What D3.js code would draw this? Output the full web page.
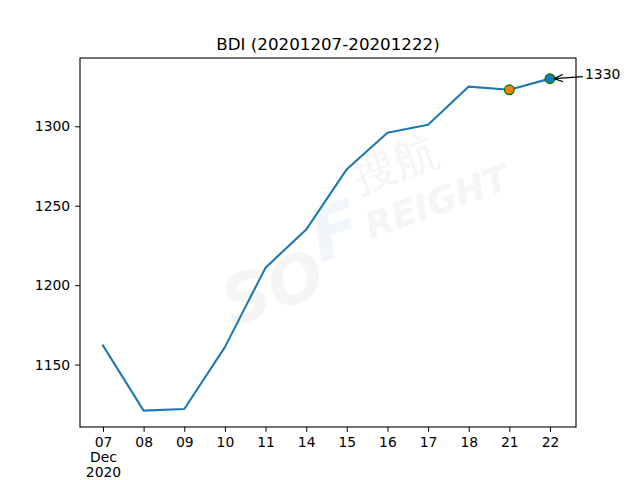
<!DOCTYPE html>
<html><head><meta charset="utf-8">
<script src="https://cdn.jsdelivr.net/npm/d3@7"></script>
<style>body{margin:0;background:#fff}svg{display:block}text{font-family:"DejaVu Sans",sans-serif}</style>
</head><body>
<script>
const days = ["07","08","09","10","11","14","15","16","17","18","21","22"];
const values = [1162,1121,1122,1161,1211,1235,1273,1296,1301,1325,1323,1330];
const yTicks = [1150,1200,1250,1300];
const title = "BDI (20201207-20201222)";
const highlightIdx = [10, 11];
const highlightFill = ["#ff7f0e", "#1f77b4"];
const annotIdx = 11;

const W=640,H=480, L=80, R=576, T=58, B=427;
const svg = d3.select("body").append("svg").attr("width",W).attr("height",H);
const x = d3.scaleLinear().domain([-0.566, 11.64]).range([L,R]);
const y = d3.scaleLinear().domain([1110.7, 1343]).range([B,T]);

// watermark
const wm = svg.append("g").attr("transform","translate(335,215) rotate(-20)");
wm.append("text").attr("x",-135).attr("y",70).attr("font-size",66).attr("font-weight","bold").attr("font-style","italic").attr("fill","#f5f5f5").text("SO");
wm.append("text").attr("x",-30).attr("y",40).attr("font-size",72).attr("font-weight","bold").attr("font-style","italic").attr("fill","#f0f6fc").text("F");
wm.append("text").attr("x",25).attr("y",35).attr("font-size",36).attr("font-weight","bold").attr("font-style","italic").attr("fill","#f5f5f5").text("REIGHT");
wm.append("text").attr("x",30).attr("y",-12).attr("font-size",44).attr("fill","#f5f5f5").attr("font-family","Noto Sans CJK SC").text("搜航");

// line
svg.append("path").datum(values)
  .attr("d", d3.line().x((d,i)=>x(i)).y(d=>y(d)))
  .attr("fill","none").attr("stroke","#1f77b4").attr("stroke-width",2.08).attr("stroke-linejoin","round").attr("stroke-linecap","square");

// markers
highlightIdx.forEach((idx,k)=>{
  svg.append("circle").attr("cx",x(idx)).attr("cy",y(values[idx])).attr("r",4.8)
    .attr("fill",highlightFill[k]).attr("stroke","green").attr("stroke-width",1.4);
});

// axes
const xAxis = d3.axisBottom(x).tickValues(d3.range(days.length)).tickFormat(i=>days[i]).tickSize(4.9).tickPadding(4.9);
const gx = svg.append("g").attr("transform",`translate(0,${B})`).call(xAxis);
const yAxis = d3.axisLeft(y).tickValues(yTicks).tickFormat(d3.format("d")).tickSize(4.9).tickPadding(4.9);
const gy = svg.append("g").attr("transform",`translate(${L},0)`).call(yAxis);
[gx,gy].forEach(g=>{
  g.select(".domain").remove();
  g.selectAll("line").attr("stroke","#000").attr("stroke-width",1);
  g.selectAll("text").attr("font-size",13.9).attr("font-family","DejaVu Sans").attr("fill","#000");
});
gx.selectAll(".tick text").attr("dy","0.71em");
const first = gx.select(".tick text");
first.append("tspan").attr("x",0).attr("dy","1.1em").text("Dec");
first.append("tspan").attr("x",0).attr("dy","1.1em").text("2020");

svg.append("rect").attr("x",L).attr("y",T).attr("width",R-L).attr("height",B-T)
  .attr("fill","none").attr("stroke","#000").attr("stroke-width",1.1);

// annotation
const defs = svg.append("defs");
defs.append("marker").attr("id","ah").attr("viewBox","0 0 10 10").attr("refX",10).attr("refY",5)
  .attr("markerWidth",9).attr("markerHeight",9).attr("markerUnits","userSpaceOnUse").attr("orient","auto")
  .append("path").attr("d","M0,1 L10,5 L0,9").attr("fill","none").attr("stroke","#000").attr("stroke-width",1.3);
const ax = x(annotIdx), ay = y(values[annotIdx]);
svg.append("line").attr("x1",583).attr("y1",ay-2).attr("x2",ax+4).attr("y2",ay)
  .attr("stroke","#000").attr("stroke-width",1.3).attr("marker-end","url(#ah)");
svg.append("text").attr("x",585).attr("y",79).attr("font-size",13.9).attr("fill","#000").text(values[annotIdx]);

// title
svg.append("text").attr("x",(L+R)/2).attr("y",50).attr("text-anchor","middle").attr("font-size",16.7).attr("fill","#000").text(title);
</script>
</body></html>
